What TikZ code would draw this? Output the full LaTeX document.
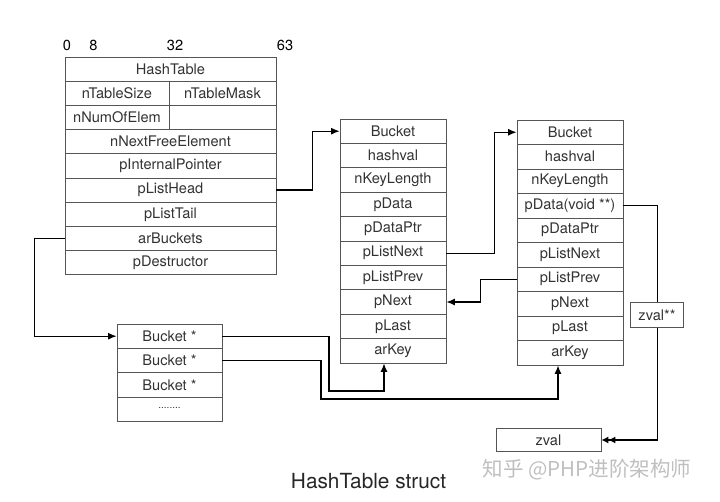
\documentclass[tikz,border=0pt]{standalone}
\usepackage{fontspec}
\setmainfont{TeX Gyre Heros}
\newfontfamily\cjkfont{Noto Sans CJK SC}
\usetikzlibrary{arrows.meta,calc}
\definecolor{txt}{HTML}{333333}
\definecolor{bord}{HTML}{555555}
\tikzset{
  cell/.style={draw=bord, line width=0.8pt, fill=white, inner sep=0pt, text=txt,
    font=\fontsize{14.6}{16}\selectfont},
  conn/.style={draw=black, line width=1.2pt},
  tip/.style={-{Latex[length=8.5pt,width=7pt]}},
  dtip/.style={-{Latex[length=7pt,width=7pt]Latex[length=7pt,width=7pt]}},
  hdr/.style={text=black, font=\fontsize{14.6}{16}\selectfont, inner sep=0pt}
}
\begin{document}
\begin{tikzpicture}[x=1pt,y=-1pt]
\useasboundingbox (0,0) rectangle (720,502);
% header numbers
\node[hdr] (h0) at (67,45) {0};
\node[hdr] (h8) at (93.5,45) {8};
\node[hdr] (h32) at (175,45) {32};
\node[hdr] (h63) at (285,45) {63};
% HashTable
\def\hh{24.2}
\node[cell, minimum width=211pt, minimum height=\hh pt] (hht) at (170.5,69.1) {HashTable};
\node[cell, minimum width=104pt, minimum height=\hh pt] (hts) at (117,93.3) {nTableSize};
\node[cell, minimum width=107pt, minimum height=\hh pt] (htm) at (222.5,93.3) {nTableMask};
\node[cell, minimum width=104pt, minimum height=\hh pt] (hne) at (117,117.5) {nNumOfElem};
\node[cell, minimum width=107pt, minimum height=\hh pt] (hemp) at (222.5,117.5) {};
\node[cell, minimum width=211pt, minimum height=\hh pt] (hnf) at (170.5,141.7) {nNextFreeElement};
\node[cell, minimum width=211pt, minimum height=\hh pt] (hip) at (170.5,165.9) {pInternalPointer};
\node[cell, minimum width=211pt, minimum height=\hh pt] (hlh) at (170.5,190.1) {pListHead};
\node[cell, minimum width=211pt, minimum height=\hh pt] (hlt) at (170.5,214.3) {pListTail};
\node[cell, minimum width=211pt, minimum height=\hh pt] (hab) at (170.5,238.5) {arBuckets};
\node[cell, minimum width=211pt, minimum height=\hh pt] (hpd) at (170.5,262.7) {pDestructor};
% Bucket 1
\foreach \i/\t in {1/Bucket,2/hashval,3/nKeyLength,4/pData,5/pDataPtr,6/pListNext,7/pListPrev,8/pNext,9/pLast,10/arKey}
  \node[cell, minimum width=106pt, minimum height=24.4pt] (b1-\i) at (393,{119+24.4*(\i-0.5)}) {\t};
% Bucket 2
\foreach \i/\t in {1/Bucket,2/hashval,3/nKeyLength,4/pData(void **),5/pDataPtr,6/pListNext,7/pListPrev,8/pNext,9/pLast,10/arKey}
  \node[cell, minimum width=106pt, minimum height=24.5pt] (b2-\i) at (570,{120+24.5*(\i-0.5)}) {\t};
% bucket array
\foreach \i in {1,2,3}
  \node[cell, minimum width=105pt, minimum height=24.4pt] (ba-\i) at (169.5,{324+24.4*(\i-0.5)}) {Bucket *};
\node[cell, minimum width=105pt, minimum height=24.4pt] (ba-4) at (169.5,409.4) {\raisebox{2pt}{\fontsize{10}{12}\selectfont ........}};
% zval
\node[cell, minimum width=105pt, minimum height=23.5pt] (zval) at (548.5,440) {zval};
% connectors
\draw[conn,tip] (hlh.east) -| ([xshift=-27pt]b1-1.west) -- (b1-1.west);
\draw[conn,tip] (hab.west) -- ++(-30,0) |- (ba-1.west);
\draw[conn,tip] (b1-6.east) -| ([xshift=-22pt]b2-1.west) -- (b2-1.west);
\draw[conn,tip] (b2-7.west) -- ++(-36,0) |- (b1-8.east);
\draw[conn,dtip] (b2-4.east) -- ++(34,0) |- (zval.east);
\draw[conn,tip] (ba-1.east) -| (329,391) -| ([xshift=-9pt]b1-10.south);
\draw[conn,tip] (ba-2.east) -| (321,399) -| ([xshift=-12pt]b2-10.south);
\node[cell, minimum width=52.6pt, minimum height=24.6pt] (zvpp) at (657,315) {zval**};
% title
\node[text=black!85, font=\fontsize{20.8}{24}\selectfont, inner sep=0pt] (title) at (368.5,481.5) {HashTable struct};
% watermark
\node[text=black!25, font=\cjkfont\fontsize{20.5}{24}\selectfont, inner sep=0pt] (wm) at (587,470) {知乎 @PHP进阶架构师};
\end{tikzpicture}
\end{document}
